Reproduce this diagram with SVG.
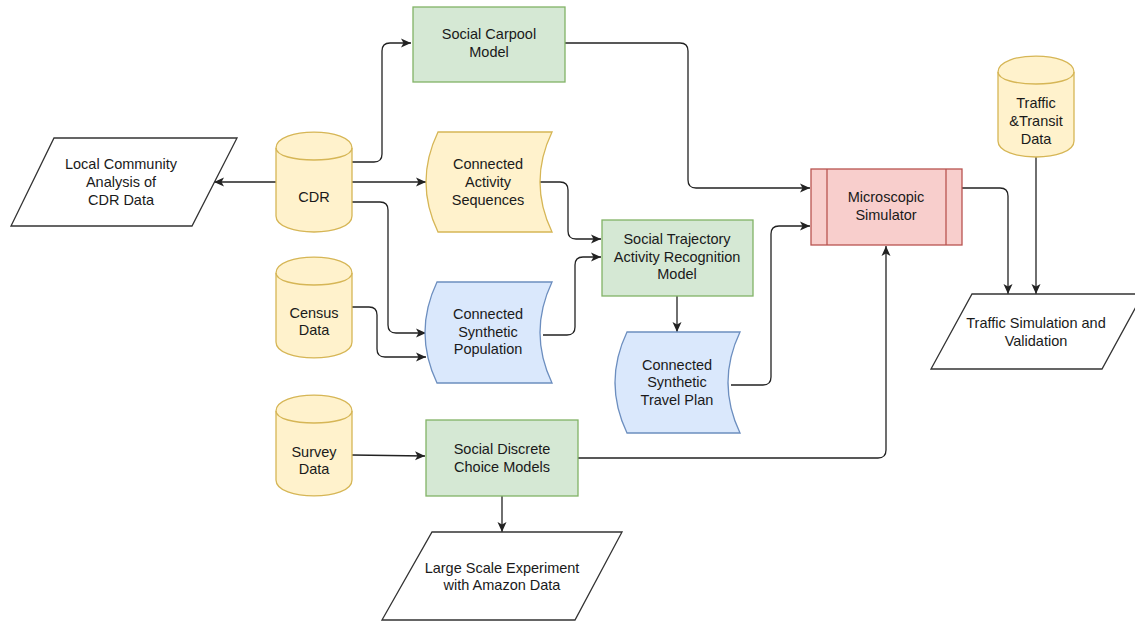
<svg xmlns="http://www.w3.org/2000/svg" width="1135" height="623" viewBox="0 0 1135 623">
  <style>
    text { font-family: "Liberation Sans", Arial, Helvetica, sans-serif; font-size: 14.5px; fill: #1a1a1a; text-anchor: middle; dominant-baseline: central; }
    .db { fill: #fff2cc; stroke: #d6b656; stroke-width: 1.3; }
    .green { fill: #d5e8d4; stroke: #82b366; stroke-width: 1.3; }
    .blue { fill: #dae8fc; stroke: #6c8ebf; stroke-width: 1.3; }
    .red { fill: #f8cecc; stroke: #b85450; stroke-width: 1.3; }
    .io { fill: #ffffff; stroke: #333; stroke-width: 1.3; }
    .edge { fill: none; stroke: #222; stroke-width: 1.3; marker-end: url(#arrow); }
    .plain { fill: none; stroke: #222; stroke-width: 1.3; }
  </style>
  <defs>
    <marker id="arrow" markerUnits="userSpaceOnUse" markerWidth="11" markerHeight="11" viewBox="0 0 11 11" refX="10" refY="5.5" orient="auto">
      <path d="M0,1 L10,5.5 L0,10 L2.5,5.5 Z" fill="#222"/>
    </marker>
  </defs>
  <rect width="1135" height="623" fill="#ffffff"/>

  <g id="connectors">
    <path class="edge" d="M352,162 L374,162 Q382,162 382,154 L382,51 Q382,43 390,43 L411,43"/>
    <path class="edge" d="M276,182 L214,182"/>
    <path class="edge" d="M352,182 L426,182"/>
    <path class="edge" d="M352,202 L380,202 Q388,202 388,210 L388,325 Q388,333 396,333 L426,333"/>
    <path class="edge" d="M352,307 L369,307 Q377,307 377,315 L377,349 Q377,357 385,357 L426,357"/>
    <path class="edge" d="M540,182 L560,182 Q568,182 568,190 L568,231 Q568,239 576,239 L601,239"/>
    <path class="edge" d="M543,335 L567,335 Q575,335 575,327 L575,265 Q575,257 583,257 L601,257"/>
    <path class="edge" d="M677,296 L677,332"/>
    <path class="edge" d="M565,43 L680,43 Q688,43 688,51 L688,180 Q688,188 696,188 L810,188"/>
    <path class="edge" d="M731,385 L763,385 Q771,385 771,377 L771,234 Q771,226 779,226 L810,226"/>
    <path class="edge" d="M578,458 L878,458 Q886,458 886,450 L886,246"/>
    <path class="edge" d="M962,188 L1000,188 Q1008,188 1008,196 L1008,294"/>
    <path class="edge" d="M1036,157 L1036,294"/>
    <path class="edge" d="M352,455 L425,456"/>
    <path class="edge" d="M502,496 L502,532"/>
  </g>

  <g id="local-community">
    <polygon class="io" points="54,138 237,138 192,226 11,226"/>
    <text x="121" y="164">Local Community</text>
    <text x="121" y="182">Analysis of</text>
    <text x="121" y="200">CDR Data</text>
  </g>

  <g id="cdr">
    <path class="db" d="M276,148 C276,126.7 352,126.7 352,148 L352,216 C352,237.3 276,237.3 276,216 Z"/>
    <path class="plain" style="stroke:#d6b656" d="M276,148 C276,164 352,164 352,148"/>
    <text x="314" y="197">CDR</text>
  </g>

  <g id="census">
    <path class="db" d="M276,273 C276,251.7 352,251.7 352,273 L352,342 C352,363.3 276,363.3 276,342 Z"/>
    <path class="plain" style="stroke:#d6b656" d="M276,273 C276,289 352,289 352,273"/>
    <text x="314" y="313">Census</text>
    <text x="314" y="330">Data</text>
  </g>

  <g id="survey">
    <path class="db" d="M276,411 C276,389.7 352,389.7 352,411 L352,480 C352,501.3 276,501.3 276,480 Z"/>
    <path class="plain" style="stroke:#d6b656" d="M276,411 C276,427 352,427 352,411"/>
    <text x="314" y="452">Survey</text>
    <text x="314" y="469">Data</text>
  </g>

  <g id="traffic-transit">
    <path class="db" d="M998,72 C998,50.7 1074,50.7 1074,72 L1074,141 C1074,162.3 998,162.3 998,141 Z"/>
    <path class="plain" style="stroke:#d6b656" d="M998,72 C998,88 1074,88 1074,72"/>
    <text x="1036" y="103">Traffic</text>
    <text x="1036" y="121">&amp;Transit</text>
    <text x="1036" y="139">Data</text>
  </g>

  <g id="social-carpool">
    <rect class="green" x="413" y="7" width="152" height="75"/>
    <text x="489" y="34">Social Carpool</text>
    <text x="489" y="52">Model</text>
  </g>

  <g id="activity-sequences">
    <path class="db" d="M438,132 L552,132 Q528,182 552,232 L438,232 Q414,182 438,132 Z"/>
    <text x="488" y="164">Connected</text>
    <text x="488" y="182">Activity</text>
    <text x="488" y="200">Sequences</text>
  </g>

  <g id="synthetic-population">
    <path class="blue" d="M437,282 L552,282 Q528,332.5 552,383 L437,383 Q413,332.5 437,282 Z"/>
    <text x="488" y="314">Connected</text>
    <text x="488" y="332">Synthetic</text>
    <text x="488" y="349">Population</text>
  </g>

  <g id="social-trajectory">
    <rect class="green" x="602" y="220" width="151" height="76"/>
    <text x="677" y="239">Social Trajectory</text>
    <text x="677" y="257">Activity Recognition</text>
    <text x="677" y="274">Model</text>
  </g>

  <g id="travel-plan">
    <path class="blue" d="M627,332 L740,332 Q716,382.5 740,433 L627,433 Q603,382.5 627,332 Z"/>
    <text x="677" y="365">Connected</text>
    <text x="677" y="382">Synthetic</text>
    <text x="677" y="400">Travel Plan</text>
  </g>

  <g id="microscopic-simulator">
    <rect class="red" x="811" y="169" width="151" height="76"/>
    <line class="plain" style="stroke:#b85450" x1="827" y1="169" x2="827" y2="245"/>
    <line class="plain" style="stroke:#b85450" x1="946" y1="169" x2="946" y2="245"/>
    <text x="886" y="197">Microscopic</text>
    <text x="886" y="215">Simulator</text>
  </g>

  <g id="traffic-simulation">
    <polygon class="io" points="972,294 1143,294 1102,369 931,369"/>
    <text x="1036" y="323">Traffic Simulation and</text>
    <text x="1036" y="341">Validation</text>
  </g>

  <g id="discrete-choice">
    <rect class="green" x="426" y="420" width="152" height="76"/>
    <text x="502" y="449">Social Discrete</text>
    <text x="502" y="467">Choice Models</text>
  </g>

  <g id="large-scale">
    <polygon class="io" points="432,532 622,532 575,620 382,620"/>
    <text x="502" y="568">Large Scale Experiment</text>
    <text x="502" y="585">with Amazon Data</text>
  </g>
</svg>
